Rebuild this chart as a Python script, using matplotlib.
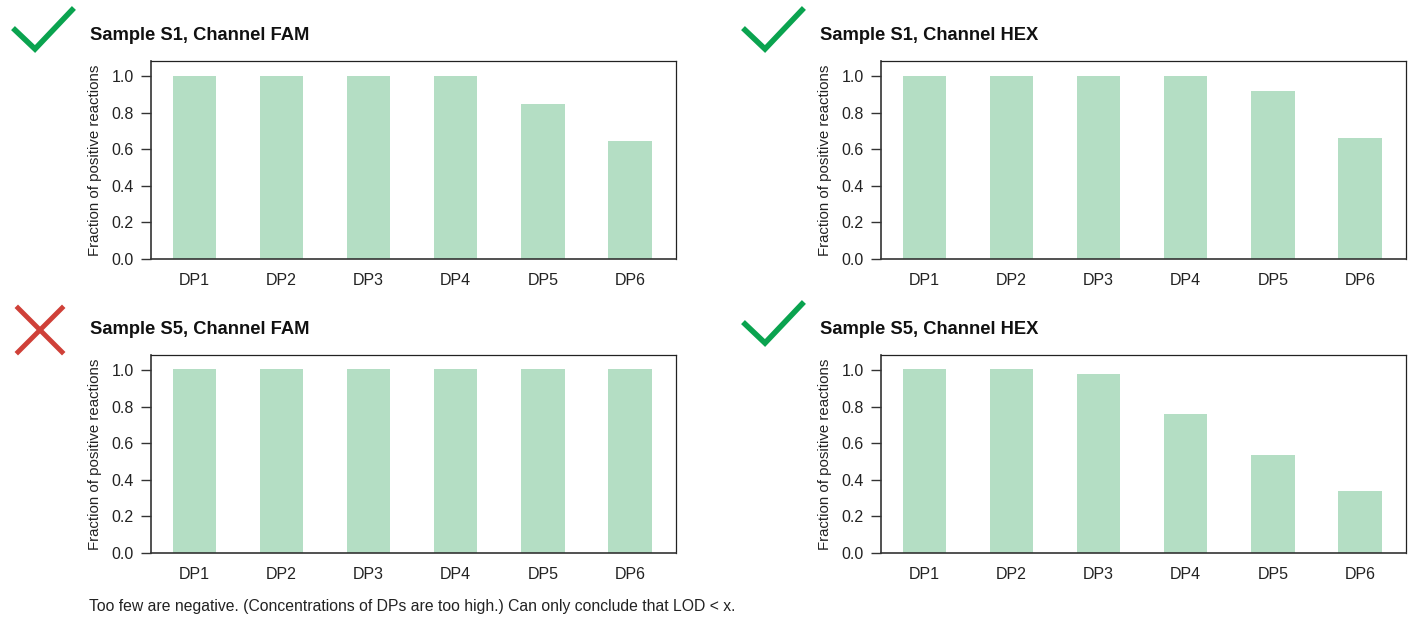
import numpy as np
import matplotlib
matplotlib.use("Agg")
import matplotlib.pyplot as plt
from matplotlib.lines import Line2D

plt.rcParams['font.family'] = ['Liberation Sans', 'DejaVu Sans']

# datos
categories = ["DP1", "DP2", "DP3", "DP4", "DP5", "DP6"]
s1_fam = [1.0, 1.0, 1.0, 1.0, 0.845, 0.643]
s1_hex = [1.0, 1.0, 1.0, 1.0, 0.918, 0.66]
s5_fam = [1.005, 1.005, 1.005, 1.005, 1.005, 1.005]
s5_hex = [1.005, 1.005, 0.978, 0.758, 0.538, 0.34]
titles = ["Sample S1, Channel FAM", "Sample S1, Channel HEX",
          "Sample S5, Channel FAM", "Sample S5, Channel HEX"]
status = ["ok", "ok", "bad", "ok"]
footnote = "Too few are negative. (Concentrations of DPs are too high.) Can only conclude that LOD < x."

W, H = 1411, 619
bar_color = "#b4dec4"
green = "#0aa34f"
red = "#cf4038"

fig = plt.figure(figsize=(W / 100, H / 100), dpi=100)

# posiciones en pixeles (izquierda, arriba) de cada panel
panels = [(151, 61), (881, 61), (151, 355), (881, 355)]
ax_w, ax_h = 525, 198
series = [s1_fam, s1_hex, s5_fam, s5_hex]


def px(x, y):
    return x / W, 1 - y / H


for (left, top), vals, title, st in zip(panels, series, titles, status):
    ax = fig.add_axes([left / W, 1 - (top + ax_h) / H, ax_w / W, ax_h / H])
    x = np.arange(len(categories))
    ax.bar(x, vals, width=0.5, color=bar_color, zorder=2)
    ax.set_xlim(-0.5, 5.53)
    ax.set_ylim(0, 1.082)
    ax.set_yticks([0.0, 0.2, 0.4, 0.6, 0.8, 1.0])
    ax.set_yticklabels(["0.0", "0.2", "0.4", "0.6", "0.8", "1.0"])
    ax.set_xticks(x)
    ax.set_xticklabels(categories)
    ax.tick_params(axis='x', length=0, pad=10, labelsize=11.5, colors="#222222")
    ax.tick_params(axis='y', length=7.5, width=1, labelsize=11.5, colors="#333333",
                   labelcolor="#222222", pad=5)
    for side in ["left", "bottom"]:
        ax.spines[side].set_color("#333333")
        ax.spines[side].set_linewidth(1.2)
    for side in ["top", "right"]:
        ax.spines[side].set_color("#222222")
        ax.spines[side].set_linewidth(0.9)
    ax.set_ylabel("Fraction of positive reactions", fontsize=10.8, color="#222222", labelpad=7)

    # titulo del panel
    tx, ty = px(left - 61, top - 26)
    fig.text(tx, ty, title, fontsize=13.2, fontweight="bold", va="center", ha="left", color="#111111")

    # marca de verificacion o cruz
    if st == "ok":
        xs = [left - 136, left - 116, left - 79]
        ys = [top - 31, top - 12, top - 51]
        pts = [px(a, b) for a, b in zip(xs, ys)]
        fig.add_artist(Line2D([p[0] for p in pts], [p[1] for p in pts],
                              color=green, lw=4, solid_joinstyle="miter",
                              transform=fig.transFigure))
    else:
        a1, b1 = px(left - 133, top - 47)
        a2, b2 = px(left - 89, top - 3)
        fig.add_artist(Line2D([a1, a2], [b1, b2], color=red, lw=3.5, transform=fig.transFigure))
        fig.add_artist(Line2D([a1, a2], [b2, b1], color=red, lw=3.5, transform=fig.transFigure))

fx, fy = px(89, 607)
fig.text(fx, fy, footnote, fontsize=11.3, va="center", ha="left", color="#222222")

fig.savefig("out.png", dpi=100)
